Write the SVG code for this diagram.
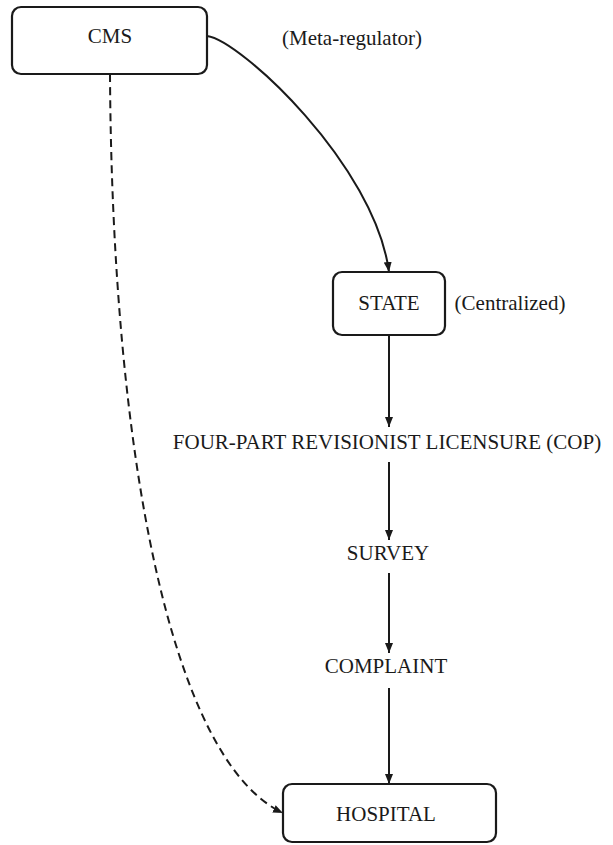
<svg xmlns="http://www.w3.org/2000/svg" width="613" height="845" viewBox="0 0 613 845">
<style>
.box{fill:#fff;stroke:#1a1a1a;stroke-width:2.2}
.t{font-family:"Liberation Serif","Times New Roman",serif;font-size:21px;fill:#1a1a1a;text-anchor:middle}
.e{fill:none;stroke:#1a1a1a;stroke-width:2}
.d{stroke-dasharray:8,5}
</style>
<defs>
<marker id="ah" viewBox="0 0 10 10" refX="10" refY="5" markerWidth="10" markerHeight="10" markerUnits="userSpaceOnUse" orient="auto">
<path d="M0,1 L10,5 L0,9 Z" fill="#1a1a1a"/>
</marker>
</defs>
<rect width="613" height="845" fill="#fff"/>
<g id="connectors">
<path class="e" d="M207,36 C240,40 375,165 389,272" marker-end="url(#ah)"/>
<path class="e d" d="M110,74 C112,450 170,760 283,813" marker-end="url(#ah)"/>
<path class="e" d="M389,335 L389,427" marker-end="url(#ah)"/>
<path class="e" d="M389,462 L389,540" marker-end="url(#ah)"/>
<path class="e" d="M389,573 L389,653" marker-end="url(#ah)"/>
<path class="e" d="M389,688 L389,784" marker-end="url(#ah)"/>
</g>
<g id="cms">
<rect class="box" x="12" y="7" width="195" height="67" rx="9"/>
<text class="t" x="110" y="43">CMS</text>
</g>
<g id="meta-label">
<text class="t" x="352" y="45">(Meta-regulator)</text>
</g>
<g id="state">
<rect class="box" x="333" y="272" width="112" height="63" rx="9"/>
<text class="t" x="389" y="310">STATE</text>
</g>
<g id="centralized-label">
<text class="t" x="510" y="310">(Centralized)</text>
</g>
<g id="licensure">
<text class="t" x="387" y="449">FOUR-PART REVISIONIST LICENSURE (COP)</text>
</g>
<g id="survey">
<text class="t" x="388" y="560">SURVEY</text>
</g>
<g id="complaint">
<text class="t" x="386" y="673">COMPLAINT</text>
</g>
<g id="hospital">
<rect class="box" x="283" y="784" width="213" height="58" rx="9"/>
<text class="t" x="386" y="821">HOSPITAL</text>
</g>
</svg>
